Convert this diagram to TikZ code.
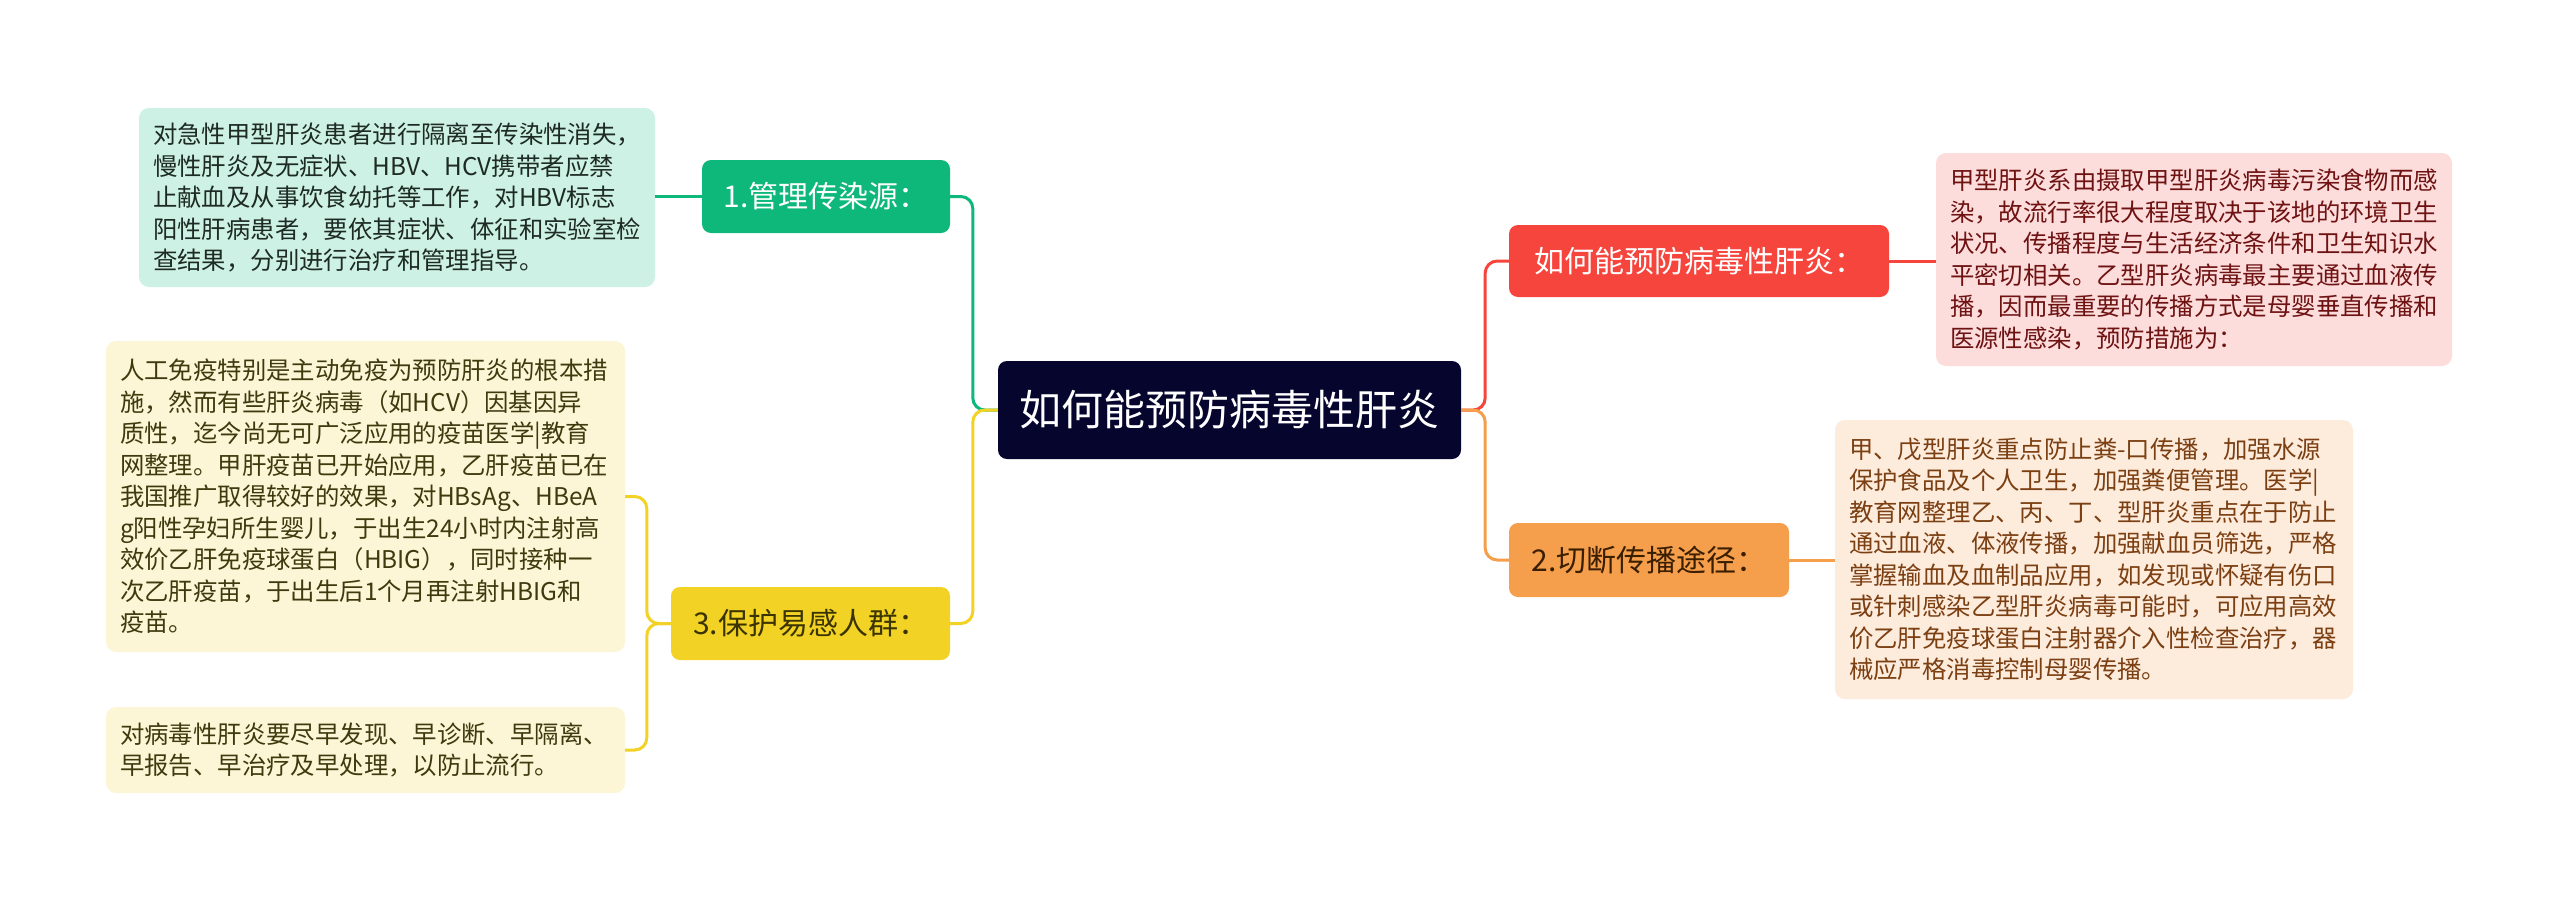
\documentclass[tikz,border=0pt]{standalone}
\usepackage{fontspec}
\setmainfont{Noto Sans CJK SC}
\definecolor{cnavy}{HTML}{05052E}
\definecolor{cgreen}{HTML}{0DB87A}
\definecolor{cgreenl}{HTML}{CDF1E4}
\definecolor{cgreent}{HTML}{1E2A24}
\definecolor{cyellow}{HTML}{F2D325}
\definecolor{cyellowl}{HTML}{FCF6D6}
\definecolor{cyellowt}{HTML}{3F3A0E}
\definecolor{cyellown}{HTML}{3B3300}
\definecolor{cred}{HTML}{F5453D}
\definecolor{credl}{HTML}{FDDCDC}
\definecolor{credt}{HTML}{6E1212}
\definecolor{corange}{HTML}{F59E4B}
\definecolor{corangel}{HTML}{FDEBDC}
\definecolor{coranget}{HTML}{7B3F12}
\definecolor{corangen}{HTML}{3A1E00}
\begin{document}
\begin{tikzpicture}[x=1pt,y=-1pt,
  leaf/.style={rounded corners=10pt, inner xsep=14pt, inner ysep=0pt, align=left,
    font=\fontsize{24.4}{31.5}\selectfont},
  topic/.style={rounded corners=9pt, inner sep=0pt, align=center,
    font=\fontsize{30}{36}\selectfont},
  link/.style={line width=3pt, rounded corners=12pt}]
\useasboundingbox (0,0) rectangle (2560,900);
\fill[white] (0,0) rectangle (2560,900);

% central
\node[topic, fill=cnavy, text=white, minimum width=463pt, minimum height=98pt,
  font=\fontsize{42}{48}\selectfont] (root) at (1229.5,410) {如何能预防病毒性肝炎};

% topics
\node[topic, fill=cgreen, text=white, minimum width=248pt, minimum height=73pt] (t1) at (826,196.5) {1.管理传染源：};
\node[topic, fill=cyellow, text=cyellown, minimum width=279pt, minimum height=73pt] (t3) at (810.5,623.5) {3.保护易感人群：};
\node[topic, fill=cred, text=white, minimum width=380pt, minimum height=72pt] (t0) at (1699,261) {如何能预防病毒性肝炎：};
\node[topic, fill=corange, text=corangen, minimum width=280pt, minimum height=74pt] (t2) at (1649,560) {2.切断传播途径：};

% leaves
\node[leaf, fill=cgreenl, text=cgreent, text width=488pt, minimum height=179pt] (g1) at (397,197.5) {对急性甲型肝炎患者进行隔离至传染性消失，\\
慢性肝炎及无症状、HBV、HCV携带者应禁\\
止献血及从事饮食幼托等工作，对HBV标志\\
阳性肝病患者，要依其症状、体征和实验室检\\
查结果，分别进行治疗和管理指导。};

\node[leaf, fill=cyellowl, text=cyellowt, text width=491pt, minimum height=311pt] (y1) at (365.5,496.5) {人工免疫特别是主动免疫为预防肝炎的根本措\\
施，然而有些肝炎病毒（如HCV）因基因异\\
质性，迄今尚无可广泛应用的疫苗医学|教育\\
网整理。甲肝疫苗已开始应用，乙肝疫苗已在\\
我国推广取得较好的效果，对HBsAg、HBeA\\
g阳性孕妇所生婴儿，于出生24小时内注射高\\
效价乙肝免疫球蛋白（HBIG），同时接种一\\
次乙肝疫苗，于出生后1个月再注射HBIG和\\
疫苗。};

\node[leaf, fill=cyellowl, text=cyellowt, text width=491pt, minimum height=86pt] (y2) at (365.5,750) {对病毒性肝炎要尽早发现、早诊断、早隔离、\\
早报告、早治疗及早处理，以防止流行。};

\node[leaf, fill=credl, text=credt, text width=488pt, minimum height=213pt] (r1) at (2194,259.5) {甲型肝炎系由摄取甲型肝炎病毒污染食物而感\\
染，故流行率很大程度取决于该地的环境卫生\\
状况、传播程度与生活经济条件和卫生知识水\\
平密切相关。乙型肝炎病毒最主要通过血液传\\
播，因而最重要的传播方式是母婴垂直传播和\\
医源性感染，预防措施为：};

\node[leaf, fill=corangel, text=coranget, text width=490pt, minimum height=279pt] (o1) at (2094,559.5) {甲、戊型肝炎重点防止粪-口传播，加强水源\\
保护食品及个人卫生，加强粪便管理。医学|\\
教育网整理乙、丙、丁、型肝炎重点在于防止\\
通过血液、体液传播，加强献血员筛选，严格\\
掌握输血及血制品应用，如发现或怀疑有伤口\\
或针刺感染乙型肝炎病毒可能时，可应用高效\\
价乙肝免疫球蛋白注射器介入性检查治疗，器\\
械应严格消毒控制母婴传播。};

% connectors
\draw[link, cgreen] (root.west) -- ++(-25,0) |- (t1.east);
\draw[link, cyellow] (root.west) -- ++(-25,0) |- (t3.east);
\draw[link, cred] (root.east) -- ++(24,0) |- (t0.west);
\draw[link, corange] (root.east) -- ++(24,0) |- (t2.west);

\draw[link, cgreen] (t1.west) -- (t1.west -| g1.east);
\draw[link, cyellow] (t3.west) -- ++(-24,0) |- (y1.east);
\draw[link, cyellow] (t3.west) -- ++(-24,0) |- (y2.east);
\draw[link, cred] (t0.east) -- (t0.east -| r1.west);
\draw[link, corange] (t2.east) -- (t2.east -| o1.west);
\end{tikzpicture}
\end{document}
